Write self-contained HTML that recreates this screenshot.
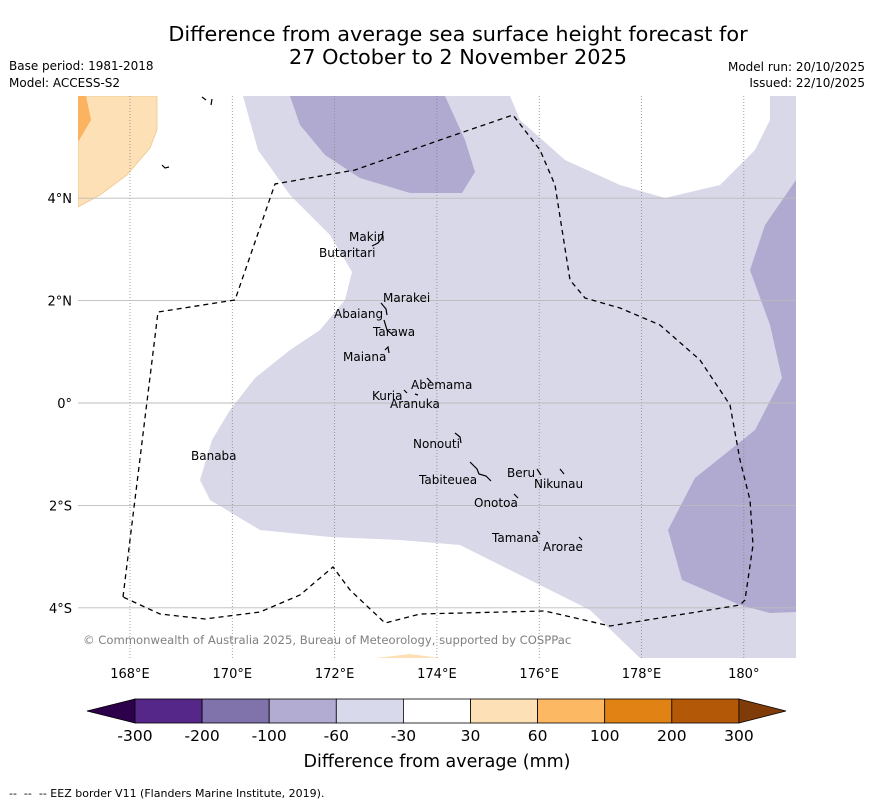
<!DOCTYPE html>
<html><head><meta charset="utf-8"><style>
body{margin:0;background:#fff;font-family:"DejaVu Sans","Liberation Sans",sans-serif}
svg text{font-family:"DejaVu Sans","Liberation Sans",sans-serif}
</style></head><body>
<svg id="chart" width="873" height="804" viewBox="0 0 873 804" xmlns="http://www.w3.org/2000/svg">
<text x="458" y="41" font-size="20.8" text-anchor="middle" fill="#000">Difference from average sea surface height forecast for</text>
<text x="458" y="64" font-size="20.8" text-anchor="middle" fill="#000">27 October to 2 November 2025</text>
<text x="9" y="70" font-size="12">Base period: 1981-2018</text>
<text x="9" y="87" font-size="12">Model: ACCESS-S2</text>
<text x="865" y="71" font-size="12" text-anchor="end">Model run: 20/10/2025</text>
<text x="865" y="87" font-size="12" text-anchor="end">Issued: 22/10/2025</text>
<defs><clipPath id="mapclip"><rect x="78" y="96" width="718" height="562"/></clipPath></defs>
<g id="map" clip-path="url(#mapclip)">
<rect x="78" y="96" width="718" height="562" fill="#fff"/>
<path fill="#d8d8e9" d="M243,96 L258,150 290,195 330,235 352,272 345,300 320,330 290,350 255,378 230,410 212,440 200,480 210,500 260,530 330,537 400,540 460,545 520,575 590,610 640,658 796,658 796,96 770,96 770,120 755,150 720,185 665,198 620,185 565,160 520,120 510,96 Z"/>
<path fill="#b0a9d0" d="M290,96 L300,125 325,155 360,178 410,193 462,193 475,172 465,140 445,96 Z"/>
<path fill="#b0a9d0" d="M796,180 L765,225 750,270 770,325 782,378 755,430 695,478 668,530 682,580 740,605 770,613 796,612 Z"/>
<path fill="#fde0b5" stroke="#f0c890" stroke-width="0.8" d="M78,96 L157,96 157,130 150,148 127,175 100,195 78,207 Z"/>
<path fill="#fbb35f" d="M78,96 L86,96 91,120 78,142 Z"/>
<path fill="#fde0b5" d="M375,658 L410,654 440,658 Z"/>
<g id="grid"></g>
<path fill="none" stroke="#000" stroke-width="1.3" stroke-dasharray="5,4" d="M123,597 L158,312 235,300 275,184 355,170 440,140 513,115 540,150 555,185 570,280 585,298 620,308 660,325 700,360 730,405 740,460 750,500 753,545 745,600 740,605 610,626 545,611 420,614 385,623 350,590 333,567 300,595 260,612 205,619 160,614 123,597"/>
<g id="islands" fill="none" stroke="#000" stroke-width="1.2">
<path d="M372,246 l6,-3 4,-5 1,-7"/><path d="M381,303 l5,6 1,6"/><path d="M384,320 l3,10 5,4"/><path d="M385,350 l3,-3 1,6"/>
<path d="M404,390 l3,3 M415,394 l3,1"/><path d="M427,378 l4,4"/><path d="M455,433 l5,4 1,6"/><path d="M470,462 l7,7 2,5 7,2 5,5"/><path d="M537,469 l4,6 M560,469 l4,5"/><path d="M514,494 l4,4"/><path d="M537,531 l3,3 M579,537 l3,3"/><path d="M202,97 l4,3 M212,99 l-1,6"/><path d="M162,165 l3,3 4,-1"/>
</g>
<g font-size="12" fill="#000">
<text x="349" y="241">Makin</text><text x="319" y="257">Butaritari</text><text x="383" y="302">Marakei</text><text x="334" y="318">Abaiang</text><text x="373" y="336">Tarawa</text><text x="343" y="361">Maiana</text><text x="411" y="389">Abemama</text><text x="372" y="400">Kuria</text><text x="390" y="408">Aranuka</text><text x="413" y="448">Nonouti</text><text x="191" y="460">Banaba</text><text x="507" y="477">Beru</text><text x="534" y="488">Nikunau</text><text x="419" y="484">Tabiteuea</text><text x="474" y="507">Onotoa</text><text x="492" y="542">Tamana</text><text x="543" y="551">Arorae</text>
</g>
<text x="83" y="644" font-size="11.6" fill="#808080">© Commonwealth of Australia 2025, Bureau of Meteorology, supported by COSPPac</text>
</g>
<g id="axes"></g>
<g id="colorbar"></g>
<text x="437" y="767" font-size="17.5" text-anchor="middle">Difference from average (mm)</text>
<text x="9" y="797" font-size="11" xml:space="preserve">--  --  -- EEZ border V11 (Flanders Marine Institute, 2019).</text>
</svg>
<script>
const lonTicks=[168,170,172,174,176,178,180];
const lonLabels=["168°E","170°E","172°E","174°E","176°E","178°E","180°"];
const latTicks=[4,2,0,-2,-4];
const latLabels=["4°N","2°N","0°","2°S","4°S"];
const cbBounds=["-300","-200","-100","-60","-30","30","60","100","200","300"];
const cbColors=["#542788","#8073ac","#b2abd2","#d8daeb","#ffffff","#fee0b6","#fdb863","#e08214","#b35806"];
const NS="http://www.w3.org/2000/svg";
const xLon=l=>130+(l-168)*51.15;
const yLat=l=>403-l*51.2;
function mk(t,a,p){const e=document.createElementNS(NS,t);for(const k in a)e.setAttribute(k,a[k]);p.appendChild(e);return e;}
const grid=document.getElementById('grid'),axes=document.getElementById('axes');
lonTicks.forEach((l,i)=>{
 const g=mk('line',{x1:xLon(l),x2:xLon(l),y1:96,y2:658,stroke:'#888','stroke-width':0.8,'stroke-dasharray':'1,2'},grid);
 
 
 const t=mk('text',{x:xLon(l),y:678,'font-size':13,'text-anchor':'middle'},axes);t.textContent=lonLabels[i];
 
 
});
latTicks.forEach((l,i)=>{
 const g=mk('line',{x1:78,x2:796,y1:yLat(l),y2:yLat(l),stroke:'#bbb','stroke-width':0.9},grid);
 
 
 const t=mk('text',{x:72,y:yLat(l)+5,'font-size':13,'text-anchor':'end'},axes);t.textContent=latLabels[i];
 
 
});
const cb=document.getElementById('colorbar');
const x0=135,w=67.1,y0=699,h=24;
mk('polygon',{points:`${x0},${y0} ${x0},${y0+h} 87,${y0+h/2}`,fill:'#2d004b',stroke:'#000','stroke-width':0.8},cb);
cbColors.forEach((c,i)=>{
 const r=mk('rect',{x:x0+i*w,y:y0,width:w,height:h,fill:c,stroke:'#000','stroke-width':0.8},cb);
 
 
});
const xe=x0+cbColors.length*w;
mk('polygon',{points:`${xe},${y0} ${xe},${y0+h} 786,${y0+h/2}`,fill:'#7f3b08',stroke:'#000','stroke-width':0.8},cb);
cbBounds.forEach((b,i)=>{
 const t=mk('text',{x:x0+i*w,y:741,'font-size':15.5,'text-anchor':'middle'},cb);t.textContent=b;
 
 
});
</script>
</body></html>
